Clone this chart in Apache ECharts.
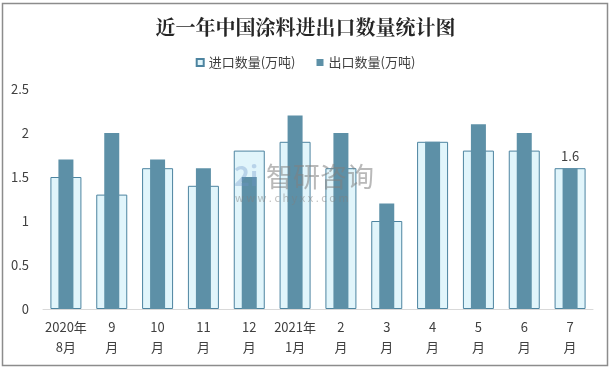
<!DOCTYPE html>
<html>
<head>
<meta charset="utf-8">
<script src="https://cdn.jsdelivr.net/npm/echarts@6/dist/echarts.min.js"></script>
<style>
html,body{margin:0;padding:0;background:#fff;}
#chart{width:611px;height:370px;}
</style>
</head>
<body>
<div id="chart"></div>
<script>
var categories = ['2020年\n8月','9\n月','10\n月','11\n月','12\n月','2021年\n1月','2\n月','3\n月','4\n月','5\n月','6\n月','7\n月'];
var importValues = [1.5, 1.3, 1.6, 1.4, 1.8, 1.9, 1.6, 1.0, 1.9, 1.8, 1.8, 1.6];
var exportValues = [1.7, 2.0, 1.7, 1.6, 1.5, 2.2, 2.0, 1.2, 1.9, 2.1, 2.0, 1.6];
var yTicks = {min: 0, max: 2.5, interval: 0.5};

var chart = echarts.init(document.getElementById('chart'));
var font = '"Noto Sans CJK SC", "Microsoft YaHei", sans-serif';

var exportData = exportValues.map(function (v, i) {
  if (i === exportValues.length - 1) {
    return {value: v, label: {show: true, position: 'top', distance: 6, color: '#404040', fontSize: 13, fontFamily: font}};
  }
  return v;
});

chart.setOption({
  animation: false,
  textStyle: {fontFamily: font},
  title: {
    text: '近一年中国涂料进出口数量统计图',
    left: 'center',
    top: 12,
    textStyle: {fontSize: 20, fontWeight: 'bold', color: '#262626', fontFamily: '"Noto Serif CJK SC", "Noto Sans CJK SC", serif'}
  },
  legend: {
    top: 51,
    left: 'center',
    icon: 'rect',
    itemWidth: 7,
    itemHeight: 7,
    itemGap: 21,
    textStyle: {fontSize: 13, color: '#404040', fontFamily: font},
    data: ['进口数量(万吨)', '出口数量(万吨)']
  },
  grid: {left: 43, right: 18, top: 89, bottom: 61, containLabel: false},
  xAxis: [{
    type: 'category',
    data: categories,
    axisLine: {lineStyle: {color: '#d9d9d9', width: 1}},
    axisTick: {show: false},
    axisLabel: {color: '#404040', fontSize: 13, lineHeight: 20, margin: 8, interval: 0, fontFamily: font}
  }, {
    type: 'category',
    data: categories,
    show: false
  }],
  yAxis: {
    type: 'value',
    min: yTicks.min,
    max: yTicks.max,
    interval: yTicks.interval,
    axisLine: {show: false},
    axisTick: {show: false},
    splitLine: {show: false},
    axisLabel: {color: '#404040', fontSize: 13, margin: 14, fontFamily: font}
  },
  graphic: [{
    type: 'rect',
    shape: {x: 2.5, y: 3.5, width: 605, height: 362},
    style: {fill: 'none', stroke: '#8c8c8c', lineWidth: 1.5},
    silent: true
  }, {
    type: 'text',
    left: 266, top: 163,
    style: {text: '智研咨询', fontSize: 27, fill: 'rgba(128,128,128,0.55)', fontFamily: font},
    z: 100
  }, {
    type: 'text',
    left: 235, top: 192,
    style: {text: 'w w w . c h y x x . c o m', fontSize: 11, fill: 'rgba(128,128,128,0.5)', fontFamily: font},
    z: 100
  }, {
    type: 'text',
    left: 234, top: 162,
    style: {text: '2i', fontSize: 27, fontWeight: 'bold', fill: 'rgba(110,150,200,0.35)', fontFamily: font},
    z: 100
  }],
  series: [{
    name: '进口数量(万吨)',
    type: 'bar',
    xAxisIndex: 0,
    barWidth: 31,
    data: importValues,
    itemStyle: {color: '#e1f5fb', borderColor: '#4d84a0', borderWidth: 1},
    z: 2
  }, {
    name: '出口数量(万吨)',
    type: 'bar',
    xAxisIndex: 1,
    barWidth: 15,
    data: exportData,
    itemStyle: {color: '#5d90a7'},
    z: 3
  }]
});
</script>
</body>
</html>
